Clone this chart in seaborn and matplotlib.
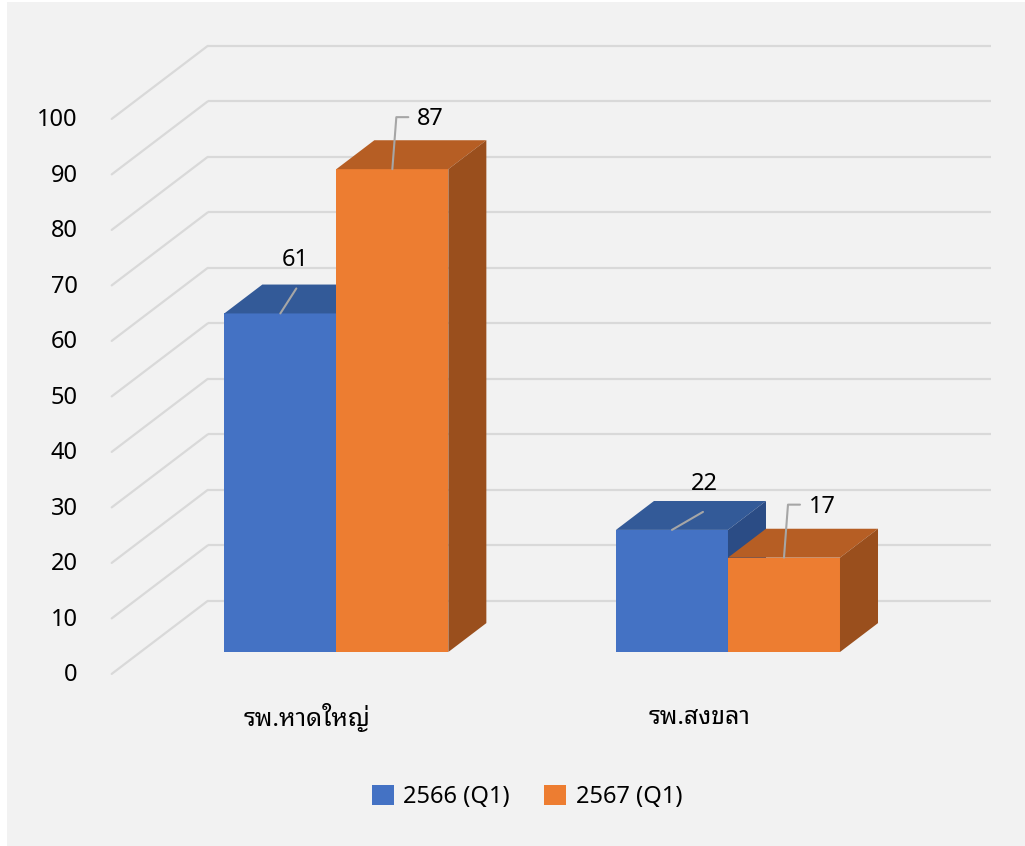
import numpy as np
import pandas as pd
import matplotlib
matplotlib.use("Agg")
import matplotlib.pyplot as plt
import seaborn as sns
from matplotlib.patches import Polygon, Rectangle, Patch

# ---------------- data ----------------
categories = ["รพ.หาดใหญ่", "รพ.สงขลา"]
series = ["2566 (Q1)", "2567 (Q1)"]
values_2566 = [61, 22]
values_2567 = [87, 17]
yticks = [0, 10, 20, 30, 40, 50, 60, 70, 80, 90, 100]

# ---------------- styles ----------------
front_colors = ["#4472C4", "#ED7D31"]
top_colors = ["#335A98", "#B65E24"]
side_colors = ["#2B4C85", "#9A4F1D"]
grid_color = "#D9D9D9"
leader_color = "#A6A6A6"

sns.set_theme(style="white")
plt.rcParams["font.family"] = ["Noto Sans", "Noto Sans Thai Looped", "Loma", "DejaVu Sans"]
plt.rcParams["text.color"] = "black"
thai_family = ["Noto Sans Thai Looped", "Loma", "DejaVu Sans"]

W, H = 1025, 846
fig = plt.figure(figsize=(W / 100, H / 100), dpi=100)
fig.patch.set_facecolor("white")
fig.patches.append(Rectangle((7 / W, 0), 1, (H - 2) / H, transform=fig.transFigure,
                             facecolor="#F2F2F2", edgecolor="none", zorder=-10))

# axes = bar front plane
x_left, x_right = 140.5, 923.8
y0_px, y100_px = 652.0, 97.0
ax = fig.add_axes([x_left / W, (H - y0_px) / H, (x_right - x_left) / W, (y0_px - y100_px) / H])
ax.patch.set_visible(False)

df = pd.DataFrame({
    "category": categories * 2,
    "series": [series[0]] * 2 + [series[1]] * 2,
    "value": values_2566 + values_2567,
})
sns.barplot(data=df, x="category", y="value", hue="series", palette=front_colors,
            saturation=1, width=0.572, ax=ax, legend=False, linewidth=0, zorder=3)
ax.set_xlim(-0.5, 1.5)
ax.set_ylim(0, 100)
for s in ax.spines.values():
    s.set_visible(False)
ax.set_xticks([])
ax.set_yticks([])
ax.set_xlabel("")
ax.set_ylabel("")

# depth vector (full wall depth) in data units
px_per_x = (x_right - x_left) / 2.0
px_per_y = (y0_px - y100_px) / 100.0
DX, DY = 96 / px_per_x, 73 / px_per_y
d_front = -0.30     # front plane (tick labels) relative to bar front
d_bar = 0.396       # bar depth
d_back = 0.70       # back wall

# back wall gridlines + left wall diagonals
for v in yticks:
    ax.plot([-0.5 + d_back * DX, 1.5 + d_back * DX], [v + d_back * DY] * 2,
            color=grid_color, lw=1.6, zorder=1, clip_on=False, solid_capstyle="butt")
    ax.plot([-0.5 + d_front * DX, -0.5 + d_back * DX], [v + d_front * DY, v + d_back * DY],
            color=grid_color, lw=1.6, zorder=1, clip_on=False)
    ax.annotate(str(v), xy=(-0.5 + d_front * DX, v + d_front * DY), xytext=(-34, -1.5),
                textcoords="offset pixels", ha="right", va="center", fontsize=17,
                color="black", annotation_clip=False)

# 3D faces for bars
for hi, cont in enumerate(ax.containers):
    for bar in cont:
        x0 = bar.get_x()
        x1 = x0 + bar.get_width()
        h = bar.get_height()
        bdx, bdy = d_bar * DX, d_bar * DY
        z = 3 + hi * 2
        bar.set_zorder(z)
        ax.add_patch(Polygon([(x0, h), (x1, h), (x1 + bdx, h + bdy), (x0 + bdx, h + bdy)],
                             closed=True, facecolor=top_colors[hi], edgecolor="none",
                             zorder=z, clip_on=False))
        ax.add_patch(Polygon([(x1, 0), (x1, h), (x1 + bdx, h + bdy), (x1 + bdx, bdy)],
                             closed=True, facecolor=side_colors[hi], edgecolor="none",
                             zorder=z, clip_on=False))

# value labels with leader lines (offsets in pixels: label x, label y, leader end x, leader end y, elbow)
label_offsets = {(0, 0): (15, 53, 16, 25, False), (1, 0): (38, 50, 4, 52, True),
                 (0, 1): (32, 46, 31, 18, False), (1, 1): (38, 51, 4, 53, True)}
tr = ax.transData
inv = tr.inverted()
for hi, cont in enumerate(ax.containers):
    for ci, bar in enumerate(cont):
        cx = bar.get_x() + bar.get_width() / 2
        h = bar.get_height()
        ox, oy, lx, ly, elbow = label_offsets[(hi, ci)]
        sx, sy = tr.transform((cx, h))
        if elbow:
            pts = [(sx, sy), (sx + lx, sy + ly), (sx + lx + 12, sy + ly)]
        else:
            pts = [(sx, sy), (sx + lx, sy + ly)]
        dp = inv.transform(pts)
        ax.plot(dp[:, 0], dp[:, 1], color=leader_color, lw=1.5, zorder=10, clip_on=False)
        ax.annotate(f"{h:g}", xy=(cx, h), xytext=(ox, oy), textcoords="offset pixels",
                    ha="center", va="center", fontsize=17, color="black",
                    annotation_clip=False, zorder=11)

# category labels on the front plane
for i, cat in enumerate(categories):
    ax.annotate(cat, xy=(i + d_front * DX, d_front * DY), xytext=(0, -44),
                textcoords="offset pixels", ha="center", va="center", fontsize=18,
                fontweight="semibold", family=thai_family,
                color="black", annotation_clip=False)

handles = [Patch(facecolor=c, edgecolor="none") for c in front_colors]
leg = fig.legend(handles, series, loc="center", bbox_to_anchor=(527 / W, 1 - 797 / H),
                 ncol=2, frameon=False, fontsize=17, handlelength=0.93, handleheight=0.93,
                 handletextpad=0.42, columnspacing=1.44)
for t in leg.get_texts():
    t.set_color("black")

fig.savefig("out.png", dpi=100)
